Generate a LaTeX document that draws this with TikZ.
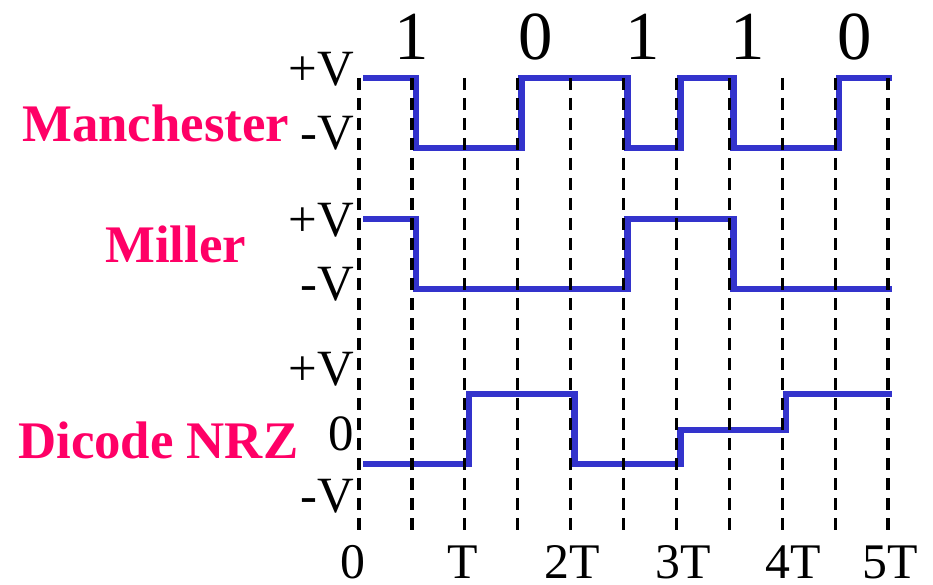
\documentclass[tikz,border=0pt]{standalone}
\usepackage{fontspec}
\setmainfont{Liberation Serif}
\definecolor{sig}{RGB}{51,51,204}
\definecolor{lab}{RGB}{255,0,102}
\begin{document}
\begin{tikzpicture}[x=1bp,y=-1bp,
  sigline/.style={draw=sig,line width=6.5bp,line join=miter},
  gridline/.style={black,line width=3.2bp,dash pattern=on 12bp off 8bp},
  lvl/.style={inner sep=0,anchor=base east,font=\fontsize{51}{51}\selectfont},
  bit/.style={inner sep=0,anchor=base,font=\fontsize{69}{69}\selectfont},
  tick/.style={inner sep=0,anchor=base,font=\fontsize{50}{50}\selectfont},
  codename/.style={inner sep=0,anchor=base west,text=lab,font=\bfseries\fontsize{53}{53}\selectfont}]
\useasboundingbox (0,0) rectangle (933,585);
% signals
\draw[sigline] (363,78) -- (415.9,78) -- (415.9,148) -- (521.7,148) -- (521.7,78) -- (627.5,78) -- (627.5,148) -- (680.4,148) -- (680.4,78) -- (733.3,78) -- (733.3,148) -- (839.1,148) -- (839.1,78) -- (892,78);
\draw[sigline] (363,219) -- (415.9,219) -- (415.9,289) -- (627.5,289) -- (627.5,219) -- (733.3,219) -- (733.3,289) -- (892,289);
\draw[sigline] (363,464) -- (468.8,464) -- (468.8,394) -- (574.6,394) -- (574.6,464) -- (680.4,464) -- (680.4,430) -- (786.2,430) -- (786.2,394) -- (892,394);
% grid
\foreach \k in {0,...,10} \draw[gridline] ({359+52.9*\k},78) -- ({359+52.9*\k},535);
% bit labels
\node[bit] (b1) at (412,60) {1};
\node[bit] (b2) at (536,60) {0};
\node[bit] (b3) at (643,60) {1};
\node[bit] (b4) at (748,60) {1};
\node[bit] (b5) at (855,60) {0};
% level labels
\node[lvl] (mp) at (354,86) {+V};
\node[lvl] (mm) at (354,150) {-V};
\node[lvl] (lp) at (354,237) {+V};
\node[lvl] (lm) at (354,300) {-V};
\node[lvl] (dp) at (354,385) {+V};
\node[lvl] (dz) at (354,450) {0};
\node[lvl] (dm) at (354,512) {-V};
% code names
\node[codename] (man) at (22,142) {Manchester};
\node[codename] (mil) at (105,263) {Miller};
\node[codename] (dic) at (18,458) {Dicode NRZ};
% time ticks
\node[tick] (t0) at (353,578) {0};
\node[tick] (t1) at (463,578) {T};
\node[tick] (t2) at (572,578) {2T};
\node[tick] (t3) at (683,578) {3T};
\node[tick] (t4) at (793,578) {4T};
\node[tick] (t5) at (890,578) {5T};
\end{tikzpicture}
\end{document}
